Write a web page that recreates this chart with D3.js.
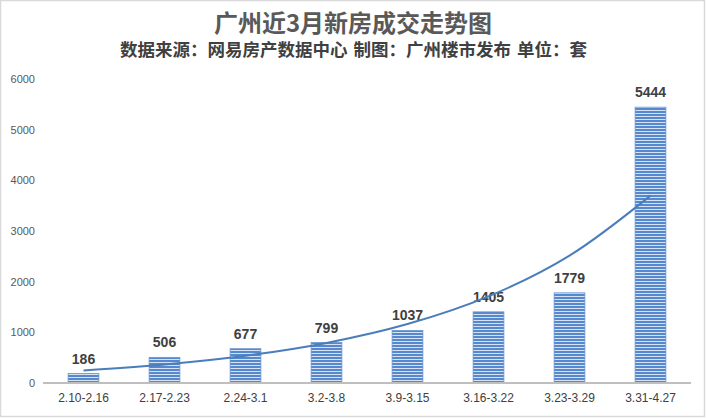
<!DOCTYPE html>
<html><head><meta charset="utf-8">
<script src="https://cdn.jsdelivr.net/npm/d3@7/dist/d3.min.js"></script>
<style>body{margin:0;background:#fff}svg{display:block}</style>
</head><body>
<svg id="c" width="706" height="418"></svg>
<script>
const categories = ["2.10-2.16","2.17-2.23","2.24-3.1","3.2-3.8","3.9-3.15","3.16-3.22","3.23-3.29","3.31-4.27"];
const values = [186,506,677,799,1037,1405,1779,5444];
// trendline (exponential) values at each category
const trendValues = [249,366,538,791,1163,1709,2514,3698];
const yTicks = [0,1000,2000,3000,4000,5000,6000];
const title = "广州近3月新房成交走势图";
const subtitle = "数据来源：网易房产数据中心 制图：广州楼市发布 单位：套";

const svg = d3.select("#c");
const W = 706, H = 418;
const font = "'Liberation Sans', Arial, 'Noto Sans CJK SC', sans-serif";
const cjk = "'Noto Sans CJK SC', sans-serif";

svg.append("rect").attr("x",0.5).attr("y",0.5).attr("width",W-2).attr("height",H-2)
  .attr("fill","#fff").attr("stroke","#d9d9d9").attr("stroke-width",1.5);

const defs = svg.append("defs");
const pat = defs.append("pattern").attr("id","stripe").attr("patternUnits","userSpaceOnUse")
  .attr("width",4).attr("height",3);
pat.append("rect").attr("width",4).attr("height",3).attr("fill","#d6e2f3");
pat.append("rect").attr("width",4).attr("height",2).attr("fill","#5588cc");

const x = d3.scaleBand().domain(categories).range([43,691]).paddingInner(0.62).paddingOuter(0.31);
const y = d3.scaleLinear().domain([0,6000]).range([383,79]);

svg.append("text").attr("x",353).attr("y",32).attr("text-anchor","middle")
  .attr("font-family",cjk).attr("font-weight","bold").attr("font-size",24).attr("fill","#595959").text(title);
svg.append("text").attr("x",353.5).attr("y",56).attr("text-anchor","middle")
  .attr("font-family",cjk).attr("font-weight","bold").attr("font-size",17.5).attr("fill","#404040")
  .attr("word-spacing",2).text(subtitle);

// y axis
const yAxis = svg.append("g").attr("transform","translate(35,0)")
  .call(d3.axisLeft(y).tickValues(yTicks).tickSize(0).tickPadding(0).tickFormat(d3.format("d")));
yAxis.select(".domain").remove();
yAxis.selectAll("text").attr("font-family",font).attr("font-size",11).attr("fill","#595959");

// bars
svg.append("g").selectAll("rect").data(values).join("rect")
  .attr("x",(d,i)=>x(categories[i])).attr("width",x.bandwidth())
  .attr("y",d=>y(d)).attr("height",d=>y(0)-y(d))
  .attr("fill","url(#stripe)").attr("stroke","#6a96d2").attr("stroke-width",0.8);

// x axis
const xAxis = svg.append("g").attr("transform","translate(0,383)")
  .call(d3.axisBottom(x).tickSize(0).tickPadding(10));
xAxis.select(".domain").attr("stroke","#bfbfbf").attr("stroke-width",2).attr("d","M43,0H691");
xAxis.selectAll("text").attr("font-family",font).attr("font-size",12).attr("fill","#404040");

// labels
svg.append("g").selectAll("text").data(values).join("text")
  .attr("x",(d,i)=>x(categories[i])+x.bandwidth()/2).attr("y",d=>y(d)-10)
  .attr("text-anchor","middle").attr("font-family",font).attr("font-weight","bold")
  .attr("font-size",14).attr("fill","#404040").text(d=>d);

// trendline
const line = d3.line().x((d,i)=>x(categories[i])+x.bandwidth()/2).y(d=>y(d)).curve(d3.curveCatmullRom);
svg.append("path").datum(trendValues).attr("d",line).attr("fill","none")
  .attr("stroke","#4a7ebb").attr("stroke-width",2);
</script>
</body></html>
